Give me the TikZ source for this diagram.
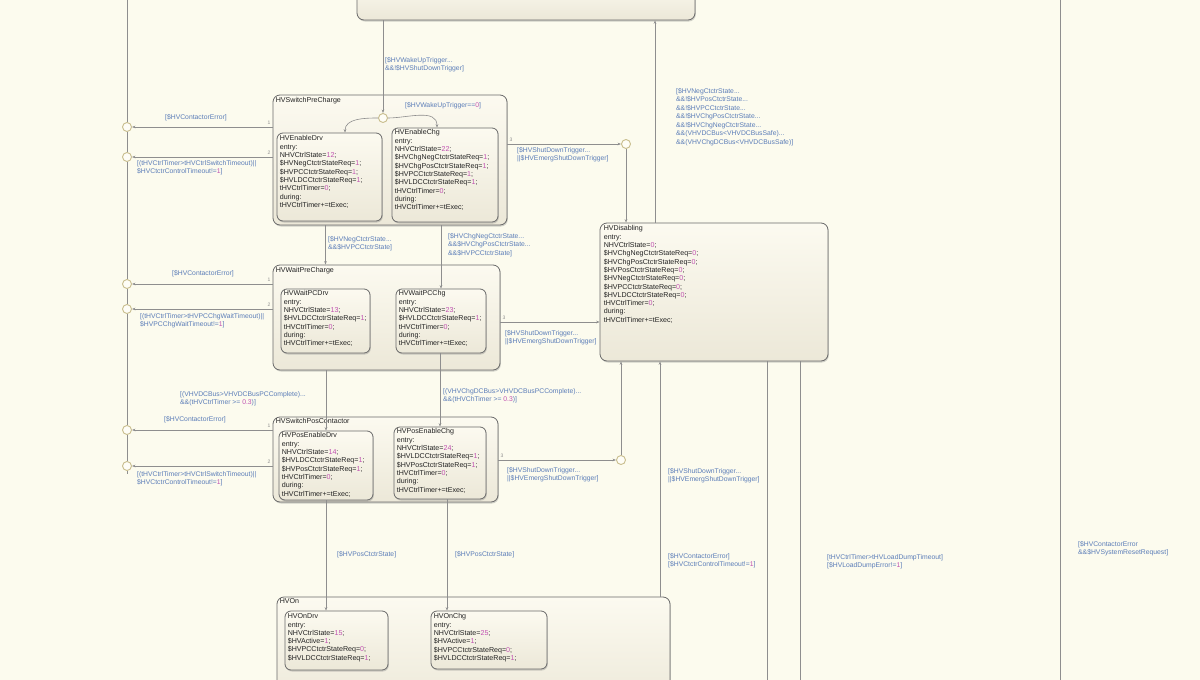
\documentclass[tikz,border=0pt]{standalone}
\usepackage{fontspec}
\setmainfont{Liberation Sans}
\usetikzlibrary{fit,arrows.meta,shadows}
\definecolor{bg}{HTML}{FCFBEE}
\definecolor{stfillt}{HTML}{FCFAF0}
\definecolor{stfillb}{HTML}{ECE8D8}
\definecolor{stdraw}{HTML}{6A6A6A}
\definecolor{trc}{HTML}{8E8E8E}
\definecolor{lblc}{HTML}{5B7DB8}
\definecolor{numc}{HTML}{C050B0}
\definecolor{junc}{HTML}{C9BE8E}
\definecolor{txtc}{HTML}{222222}
\newcommand\nm[1]{{\color{numc}#1}}
\tikzset{
 stbox/.style={draw=stdraw, line width=0.8pt, rounded corners=7pt, top color=stfillt, bottom color=stfillb, inner sep=0pt,
   drop shadow={shadow xshift=0.8pt, shadow yshift=-1.5pt, opacity=0.35, fill=gray}},
 subbox/.style={stbox, rounded corners=6pt},
 sttext/.style={anchor=north west, align=left, inner sep=0pt, font=\fontsize{7.1}{8.3}\selectfont, text=txtc},
 tr/.style={draw=trc, line width=0.6pt, -{Stealth[length=3.5pt,width=2.6pt]}},
 ln/.style={draw=trc, line width=0.6pt},
 lbl/.style={anchor=north west, align=left, inner sep=0pt, text=lblc, font=\fontsize{6.8}{8.5}\selectfont},
 prio/.style={inner sep=0pt, text=trc, font=\fontsize{5}{6}\selectfont},
 junct/.style={circle, draw=junc, fill=bg!50!white, line width=0.9pt, minimum size=9pt, inner sep=0pt},
}
\begin{document}
\begin{tikzpicture}[x=1pt,y=-1pt]
\useasboundingbox (0,0) rectangle (1200,680);
\clip (0,0) rectangle (1200,680);
\fill[bg] (0,0) rectangle (1200,680);

% free ends / helper coordinates
\coordinate (lt) at (127,0);
\coordinate (lb) at (127,474);
\coordinate (rt) at (1060,0);
\coordinate (rb) at (1060,680);
\coordinate (c345) at (345,0);
\coordinate (c437) at (437,0);
\coordinate (c447) at (447,0);
\coordinate (c655) at (655,0);
\coordinate (c660) at (660,0);
\coordinate (c767) at (767,680);
\coordinate (c800) at (800,680);
\coordinate (r2) at (550,322);

% states
\node[stbox, fit={(357,-20) (695,20)}] (TOP) {};

\node[stbox, fit={(273,95) (507,225)}] (SPC) {};
\node[sttext] (SPC-t) at ([shift={(3,3)}]SPC.north west) {HVSwitchPreCharge};
\node[subbox, fit={(277,133) (382,221)}] (EDrv) {};
\node[sttext] (EDrv-t) at ([shift={(3,3)}]EDrv.north west) {HVEnableDrv\\entry:\\NHVCtrlState=\nm{12};\\\$HVNegCtctrStateReq=\nm{1};\\\$HVPCCtctrStateReq=\nm{1};\\\$HVLDCCtctrStateReq=\nm{1};\\tHVCtrlTimer=\nm{0};\\during:\\tHVCtrlTimer+=tExec;};
\node[subbox, fit={(392,128) (498,222)}] (EChg) {};
\node[sttext] (EChg-t) at ([shift={(3,2)}]EChg.north west) {HVEnableChg\\entry:\\NHVCtrlState=\nm{22};\\\$HVChgNegCtctrStateReq=\nm{1};\\\$HVChgPosCtctrStateReq=\nm{1};\\\$HVPCCtctrStateReq=\nm{1};\\\$HVLDCCtctrStateReq=\nm{1};\\tHVCtrlTimer=\nm{0};\\during:\\tHVCtrlTimer+=tExec;};

\node[stbox, fit={(273,265) (500,370)}] (WPC) {};
\node[sttext] (WPC-t) at ([shift={(3,3)}]WPC.north west) {HVWaitPreCharge};
\node[subbox, fit={(281,289) (370,353)}] (WDrv) {};
\node[sttext] (WDrv-t) at ([shift={(3,2)}]WDrv.north west) {HVWaitPCDrv\\entry:\\NHVCtrlState=\nm{13};\\\$HVLDCCtctrStateReq=\nm{1};\\tHVCtrlTimer=\nm{0};\\during:\\tHVCtrlTimer+=tExec;};
\node[subbox, fit={(396,289) (486,353)}] (WChg) {};
\node[sttext] (WChg-t) at ([shift={(3,2)}]WChg.north west) {HVWaitPCChg\\entry:\\NHVCtrlState=\nm{23};\\\$HVLDCCtctrStateReq=\nm{1};\\tHVCtrlTimer=\nm{0};\\during:\\tHVCtrlTimer+=tExec;};

\node[stbox, fit={(273,417) (498,502)}] (SPos) {};
\node[sttext] (SPos-t) at ([shift={(3,2)}]SPos.north west) {HVSwitchPosContactor};
\node[subbox, fit={(279,431) (373,500)}] (PDrv) {};
\node[sttext] (PDrv-t) at ([shift={(3,2)}]PDrv.north west) {HVPosEnableDrv\\entry:\\NHVCtrlState=\nm{14};\\\$HVLDCCtctrStateReq=\nm{1};\\\$HVPosCtctrStateReq=\nm{1};\\tHVCtrlTimer=\nm{0};\\during:\\tHVCtrlTimer+=tExec;};
\node[subbox, fit={(394,427) (486,499)}] (PChg) {};
\node[sttext] (PChg-t) at ([shift={(3,2)}]PChg.north west) {HVPosEnableChg\\entry:\\NHVCtrlState=\nm{24};\\\$HVLDCCtctrStateReq=\nm{1};\\\$HVPosCtctrStateReq=\nm{1};\\tHVCtrlTimer=\nm{0};\\during:\\tHVCtrlTimer+=tExec;};

\node[stbox, fit={(277,597) (670,712)}] (ON) {};
\node[sttext] (ON-t) at ([shift={(3,2)}]ON.north west) {HVOn};
\node[subbox, fit={(285,611) (388,670)}] (ODrv) {};
\node[sttext] (ODrv-t) at ([shift={(3,3)}]ODrv.north west) {HVOnDrv\\entry:\\NHVCtrlState=\nm{15};\\\$HVActive=\nm{1};\\\$HVPCCtctrStateReq=\nm{0};\\\$HVLDCCtctrStateReq=\nm{1};};
\node[subbox, fit={(431,611) (547,669)}] (OChg) {};
\node[sttext] (OChg-t) at ([shift={(3,3)}]OChg.north west) {HVOnChg\\entry:\\NHVCtrlState=\nm{25};\\\$HVActive=\nm{1};\\\$HVPCCtctrStateReq=\nm{0};\\\$HVLDCCtctrStateReq=\nm{1};};

\node[stbox, fit={(600,223) (828,361)}] (DIS) {};
\node[sttext] (DIS-t) at ([shift={(4,3)}]DIS.north west) {HVDisabling\\entry:\\NHVCtrlState=\nm{0};\\\$HVChgNegCtctrStateReq=\nm{0};\\\$HVChgPosCtctrStateReq=\nm{0};\\\$HVPosCtctrStateReq=\nm{0};\\\$HVNegCtctrStateReq=\nm{0};\\\$HVPCCtctrStateReq=\nm{0};\\\$HVLDCCtctrStateReq=\nm{0};\\tHVCtrlTimer=\nm{0};\\during:\\tHVCtrlTimer+=tExec;};

% junctions
\node[junct] (jW) at (383,118) {};
\node[junct] (jL1) at (127,127) {};
\node[junct] (jL2) at (127,157) {};
\node[junct] (jL3) at (127,284) {};
\node[junct] (jL4) at (127,309) {};
\node[junct] (jL5) at (127,430) {};
\node[junct] (jL6) at (127,466) {};
\node[junct] (jR1) at (626,144) {};
\node[junct] (jR2) at (621,460) {};

% background lines
\draw[ln] (rt) -- (rb);
\draw[ln] (lt) -- (jL1) -- (jL2) -- (jL3) -- (jL4) -- (jL5) -- (jL6) -- (lb);

% transitions
\draw[tr] (TOP.south -| jW) -- (jW);
\draw[tr] (jW.west) to[out=180,in=90] (EDrv.north -| c345);
\draw[tr] (jW.east) to[out=0,in=90] (EChg.north -| c437);

\draw[tr] (SPC.west |- jL1) -- (jL1);
\draw[tr] (SPC.west |- jL2) -- (jL2);
\draw[tr] (WPC.west |- jL3) -- (jL3);
\draw[tr] (WPC.west |- jL4) -- (jL4);
\draw[tr] (SPos.west |- jL5) -- (jL5);
\draw[tr] (SPos.west |- jL6) -- (jL6);

\draw[tr] (SPC.east |- jR1) -- (jR1);
\draw[tr] (jR1) -- (DIS.north -| jR1);
\draw[tr] (WPC.east |- r2) -- (DIS.west |- r2);
\draw[tr] (SPos.east |- jR2) -- (jR2);
\draw[tr] (jR2) -- (DIS.south -| jR2);
\draw[tr] (DIS.north -| c655) -- (TOP.south -| c655);
\draw[tr] (ON.north -| c660) -- (DIS.south -| c660);
\draw[ln] (DIS.south -| c767) -- (c767);
\draw[ln] (DIS.south -| c800) -- (c800);

\draw[tr] (SPC.south -| WDrv) -- (WPC.north -| WDrv);
\draw[tr] (SPC.south -| WChg) -- (WChg.north);
\draw[tr] (WPC.south -| PDrv) -- (PDrv.north);
\draw[tr] (WChg.south -| PChg) -- (PChg.north);
\draw[tr] (PDrv.south) -- (ODrv.north -| PDrv);
\draw[tr] (PChg.south -| c447) -- (OChg.north -| c447);

% priority numbers
\node[prio] (p1) at (269,123) {1};
\node[prio] (p2) at (269,153) {2};
\node[prio] (p3) at (269,280) {1};
\node[prio] (p4) at (269,305) {2};
\node[prio] (p5) at (269,426) {1};
\node[prio] (p6) at (269,462) {2};
\node[prio] (p7) at (511,140) {3};
\node[prio] (p8) at (504,318) {3};
\node[prio] (p9) at (502,456) {3};

% labels
\node[lbl] (l1) at (385,57) {[\$HVWakeUpTrigger...\\\&\&!\$HVShutDownTrigger]};
\node[lbl] (l2) at (405,102) {[\$HVWakeUpTrigger==\nm{0}]};
\node[lbl] (l3) at (676,88) {[\$HVNegCtctrState...\\\&\&!\$HVPosCtctrState...\\\&\&!\$HVPCCtctrState...\\\&\&!\$HVChgPosCtctrState...\\\&\&!\$HVChgNegCtctrState...\\\&\&(VHVDCBus<VHVDCBusSafe)...\\\&\&(VHVChgDCBus<VHVDCBusSafe)]};
\node[lbl] (l4) at (165,114) {[\$HVContactorError]};
\node[lbl] (l5) at (137,160) {[(tHVCtrlTimer>tHVCtrlSwitchTimeout)||\\\$HVCtctrControlTimeout!=\nm{1}]};
\node[lbl] (l6) at (517,147) {[\$HVShutDownTrigger...\\||\$HVEmergShutDownTrigger]};
\node[lbl] (l7) at (328,236) {[\$HVNegCtctrState...\\\&\&\$HVPCCtctrState]};
\node[lbl] (l8) at (448,233) {[\$HVChgNegCtctrState...\\\&\&\$HVChgPosCtctrState...\\\&\&\$HVPCCtctrState]};
\node[lbl] (l9) at (172,270) {[\$HVContactorError]};
\node[lbl] (l10) at (140,313) {[(tHVCtrlTimer>tHVPCChgWaitTimeout)||\\\$HVPCChgWaitTimeout!=\nm{1}]};
\node[lbl] (l11) at (505,330) {[\$HVShutDownTrigger...\\||\$HVEmergShutDownTrigger]};
\node[lbl] (l12) at (180,391) {[(VHVDCBus>VHVDCBusPCComplete)...\\\&\&(tHVCtrlTimer >= \nm{0.3})]};
\node[lbl] (l13) at (443,388) {[(VHVChgDCBus>VHVDCBusPCComplete)...\\\&\&(tHVChTimer >= \nm{0.3})]};
\node[lbl] (l14) at (164,416) {[\$HVContactorError]};
\node[lbl] (l15) at (137,471) {[(tHVCtrlTimer>tHVCtrlSwitchTimeout)||\\\$HVCtctrControlTimeout!=\nm{1}]};
\node[lbl] (l16) at (507,467) {[\$HVShutDownTrigger...\\||\$HVEmergShutDownTrigger]};
\node[lbl] (l17) at (337,551) {[\$HVPosCtctrState]};
\node[lbl] (l18) at (455,551) {[\$HVPosCtctrState]};
\node[lbl] (l19) at (668,468) {[\$HVShutDownTrigger...\\||\$HVEmergShutDownTrigger]};
\node[lbl] (l20) at (668,553) {[\$HVContactorError]\\{[}\$HVCtctrControlTimeout!=\nm{1}]};
\node[lbl] (l21) at (827,554) {[tHVCtrlTimer>tHVLoadDumpTimeout]\\{[}\$HVLoadDumpError!=\nm{1}]};
\node[lbl] (l22) at (1078,541) {[\$HVContactorError\\\&\&\$HVSystemResetRequest]};
\end{tikzpicture}
\end{document}
